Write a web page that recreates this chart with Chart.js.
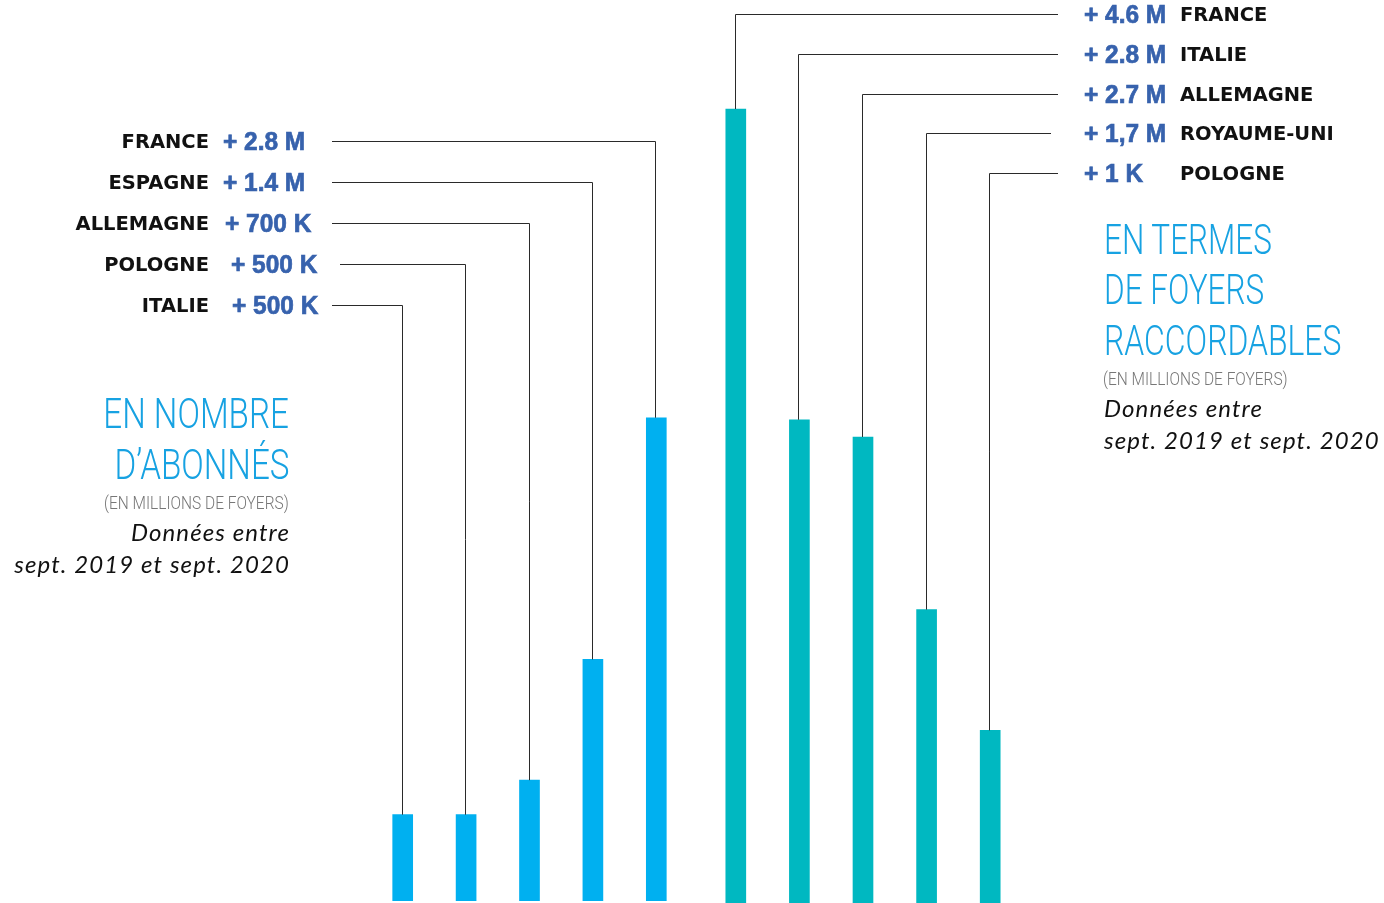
<!DOCTYPE html>
<html>
<head>
<meta charset="utf-8">
<script src="https://cdn.jsdelivr.net/npm/chart.js@4.4.0/dist/chart.umd.min.js"></script>
<style>
  html, body { margin: 0; padding: 0; background: #fff; }
  #page { position: relative; width: 1384px; height: 903px; overflow: hidden; }
  canvas { position: absolute; top: 0; }
  .txt { position: absolute; white-space: nowrap; line-height: 1; }
  .pays { font-family: "DejaVu Sans", sans-serif; font-weight: bold; font-size: 19.5px; color: #111; }
  .val { font-family: "Liberation Sans", Arial, sans-serif; font-weight: bold; font-size: 26px; color: #3762ad; -webkit-text-stroke: 0.7px #3762ad; transform: scaleX(0.94); transform-origin: left center; }
  .titre { font-family: Roboto, sans-serif; font-weight: 300; font-size: 42px; color: #17a2e2; }
  .sous { font-family: Roboto, sans-serif; font-weight: 300; font-size: 18px; color: #777; }
  .ital { font-family: Lato, sans-serif; font-style: italic; font-size: 24px; letter-spacing: 1.1px; color: #111; }
  .left { transform-origin: right center; }
  .right { transform-origin: left center; }
</style>
</head>
<body>
<div id="page">
  <canvas id="abonnes" width="696" height="903" style="left:0"></canvas>
  <canvas id="raccordables" width="688" height="903" style="left:696px"></canvas>
</div>
<script>
// abonnés (bars left to right)
const abonnesPays = ["ITALIE", "POLOGNE", "ALLEMAGNE", "ESPAGNE", "FRANCE"];
const abonnesValeurs = [0.5, 0.5, 0.7, 1.4, 2.8];
const abonnesTextes = ["+ 500 K", "+ 500 K", "+ 700 K", "+ 1.4 M", "+ 2.8 M"];

// foyers raccordables (bars left to right)
const raccPays = ["FRANCE", "ITALIE", "ALLEMAGNE", "ROYAUME-UNI", "POLOGNE"];
const raccValeurs = [4.6, 2.8, 2.7, 1.7, 1.0];
const raccTextes = ["+ 4.6 M", "+ 2.8 M", "+ 2.7 M", "+ 1,7 M", "+ 1 K"];

const yMax = 5;

// label rows (page coords), same order as the bars
const abonnesRowY = [305, 264, 223, 182, 141];
const abonnesLineStart = [332, 340, 332, 332, 332];
const abonnesValX = [232, 231, 225, 223, 223];
const raccRowY = [14, 54, 94, 133, 173];
const raccLineEnd = [1058, 1058, 1058, 1051, 1058];

const page = document.getElementById("page");

function addText(cls, text, style) {
  const d = document.createElement("div");
  d.className = "txt " + cls;
  d.textContent = text;
  Object.assign(d.style, style);
  page.appendChild(d);
  return d;
}

const leaders = {
  id: "leaders",
  afterDatasetsDraw(chart, args, opts) {
    const ctx = chart.ctx;
    const meta = chart.getDatasetMeta(0);
    ctx.save();
    ctx.strokeStyle = "#2a2a2a";
    ctx.lineWidth = 1;
    meta.data.forEach((bar, i) => {
      const x = Math.round(bar.x) - 0.5;
      const y = opts.rows[i] + 0.5;
      const edge = opts.edges[i] - opts.offset;
      ctx.beginPath();
      ctx.moveTo(edge, y);
      ctx.lineTo(x, y);
      ctx.lineTo(x, bar.y);
      ctx.stroke();
    });
    ctx.restore();
  }
};

function makeChart(id, labels, values, color, padding, rows, edges, offset) {
  return new Chart(document.getElementById(id), {
    type: "bar",
    data: {
      labels: labels,
      datasets: [{ data: values, backgroundColor: color, borderWidth: 0, barThickness: 20 }]
    },
    options: {
      responsive: false,
      animation: false,
      layout: { padding: padding },
      plugins: {
        legend: { display: false },
        tooltip: { enabled: false },
        leaders: { rows: rows, edges: edges, offset: offset }
      },
      scales: {
        x: { display: false, offset: true, grid: { display: false } },
        y: { display: false, min: 0, max: yMax, grid: { display: false } }
      }
    },
    plugins: [leaders]
  });
}

makeChart("abonnes", abonnesPays, abonnesValeurs, "#00b0f0",
  { left: 371, right: 8, top: 38, bottom: 2 }, abonnesRowY, abonnesLineStart, 0);
makeChart("raccordables", raccPays, raccValeurs, "#00b8c1",
  { left: 8, right: 362, top: 40, bottom: 0 }, raccRowY, raccLineEnd, 696);

// labels
abonnesPays.forEach((p, i) => {
  const y = abonnesRowY[i];
  addText("pays", p, { right: (1384 - 209) + "px", top: (y - 9) + "px" });
  addText("val", abonnesTextes[i], { left: abonnesValX[i] + "px", top: (y - 13) + "px" });
});
raccPays.forEach((p, i) => {
  const y = raccRowY[i];
  addText("val", raccTextes[i], { left: "1084px", top: (y - 13) + "px" });
  addText("pays", p, { left: "1180px", top: (y - 9) + "px" });
});

// titres
addText("titre left", "EN NOMBRE", { right: (1384 - 289) + "px", top: "393px", transform: "scaleX(0.79)" });
addText("titre left", "D\u2019ABONNÉS", { right: (1384 - 289) + "px", top: "444px", transform: "scaleX(0.79)" });
addText("sous left", "(EN MILLIONS DE FOYERS)", { right: (1384 - 289) + "px", top: "494px", transform: "scaleX(0.86)" });
addText("ital", "Données entre", { right: (1384 - 290) + "px", top: "520px" });
addText("ital", "sept. 2019 et sept. 2020", { right: (1384 - 290) + "px", top: "552px" });

addText("titre right", "EN TERMES", { left: "1104px", top: "219px", transform: "scaleX(0.75)" });
addText("titre right", "DE FOYERS", { left: "1104px", top: "269px", transform: "scaleX(0.75)" });
addText("titre right", "RACCORDABLES", { left: "1104px", top: "320px", transform: "scaleX(0.76)" });
addText("sous right", "(EN MILLIONS DE FOYERS)", { left: "1103px", top: "370px", transform: "scaleX(0.86)" });
addText("ital", "Données entre", { left: "1104px", top: "396px" });
addText("ital", "sept. 2019 et sept. 2020", { left: "1104px", top: "428px" });
</script>
</body>
</html>
